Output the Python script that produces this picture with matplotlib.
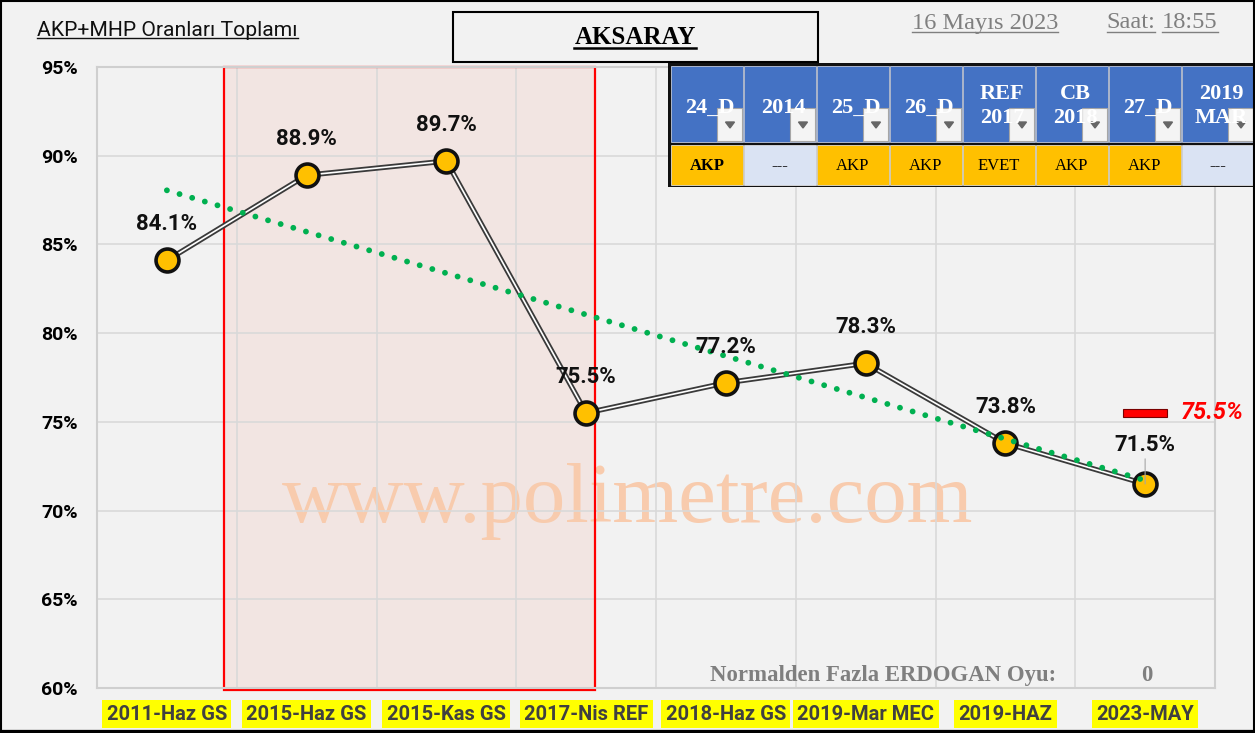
import numpy as np
import matplotlib.pyplot as plt
from matplotlib.patches import Rectangle, Polygon
from matplotlib.lines import Line2D

# data
elections = ['2011-Haz GS', '2015-Haz GS', '2015-Kas GS', '2017-Nis REF',
             '2018-Haz GS', '2019-Mar MEC', '2019-HAZ', '2023-MAY']
akp_mhp = [84.1, 88.9, 89.7, 75.5, 77.2, 78.3, 73.8, 71.5]
expected_2023 = 75.5
yticks = [60, 65, 70, 75, 80, 85, 90, 95]

table_heads = ['24_D', '2014', '25_D', '26_D', 'REF\n2017', 'CB\n2018', '27_D', '2019\nMAR']
table_vals = ['AKP', '---', 'AKP', 'AKP', 'EVET', 'AKP', 'AKP', '---']
extra_erdogan = 0

W, H = 1255, 733
BG = '#f2f2f2'
GRID = '#d9d9d9'

fig = plt.figure(figsize=(W / 100, H / 100), dpi=100)
fig.set_facecolor(BG)


def px_rect(x, y, w, h, **kw):
    r = Rectangle((x / W, 1 - (y + h) / H), w / W, h / H, transform=fig.transFigure, **kw)
    fig.add_artist(r)
    return r


def ftext(x, y, s, **kw):
    return fig.text(x / W, 1 - y / H, s, **kw)


def underline(t, color, lw=1.2):
    fig.canvas.draw()
    bb = t.get_window_extent().transformed(fig.transFigure.inverted())
    fig.add_artist(Line2D([bb.x0, bb.x1], [bb.y0 + 0.002, bb.y0 + 0.002],
                          transform=fig.transFigure, color=color, lw=lw))


ax = fig.add_axes([97 / W, 1 - 688 / H, (1215 - 97) / W, (688 - 67) / H])
ax.set_facecolor(BG)
x = np.arange(len(elections))

# highlighted period
ax.add_patch(Rectangle((0.41, 59.9), 2.65, 95 - 59.9, facecolor='#f2e5e2',
                       edgecolor='none', zorder=0.2, clip_on=False))
ax.add_patch(Rectangle((0.41, 59.9), 2.65, 95 - 59.9, facecolor='none',
                       edgecolor='#ff0000', lw=1.6, zorder=2.5, clip_on=False))

ax.text(3.3, 70.5, 'www.polimetre.com', fontsize=61, family='Liberation Serif',
        color='#f8cbad', ha='center', va='center', zorder=0.3)

# series: double line with yellow markers
ax.plot(x, akp_mhp, color='#3a3a3a', lw=3.8, zorder=3, solid_capstyle='round')
ax.plot(x, akp_mhp, color='white', lw=1.2, zorder=3.1)
ax.plot(x, akp_mhp, 'o', ms=16.5, mfc='#ffc000', mec='#111111', mew=2.6, zorder=4)

# linear trendline
coef = np.polyfit(x, akp_mhp, 1)
ax.plot(x, np.polyval(coef, x), color='#00b050', lw=4.2,
        linestyle=(0, (0.01, 2.25)), dash_capstyle='round', zorder=5)

for i, v in enumerate(akp_mhp):
    kw = {}
    dy = 26
    if i == len(akp_mhp) - 1:
        dy = 28
        kw = dict(arrowprops=dict(arrowstyle='-', color='#a6a6a6', lw=0.8,
                                  shrinkA=0, shrinkB=0))
    ax.annotate(f'{v:.1f}%', (i, v), xytext=(0, dy),
                textcoords='offset points', ha='center', va='center',
                family='Roboto', fontweight='bold', fontsize=16, color='#111111',
                zorder=6, **kw)

# expected value for 2023
ax.bar(x[-1], 0.5, bottom=expected_2023 - 0.25, width=0.31, color='#ff0000',
       edgecolor='#7a0000', lw=0.8, zorder=3)
ax.annotate(f'{expected_2023:.1f}%', (x[-1] + 0.155, expected_2023), xytext=(10, 0),
            textcoords='offset points', ha='left', va='center', color='#ff0000',
            family='Roboto', fontweight='bold', fontstyle='italic', fontsize=17,
            annotation_clip=False)

ax.text(6.36, 60.7, 'Normalden Fazla ERDOGAN Oyu:', ha='right', va='center',
        family='Liberation Serif', fontweight='bold', fontsize=16.4, color='#7f7f7f')
ax.text(7.01, 60.7, str(extra_erdogan), ha='center', va='center',
        family='Liberation Serif', fontweight='bold', fontsize=16.4, color='#7f7f7f')

ax.set_xlim(-0.5, 7.5)
ax.set_ylim(60, 95)
ax.set_yticks(yticks)
ax.set_yticklabels([f'{t}%' for t in yticks], family='Roboto', fontweight='bold', fontsize=14)
ax.set_xticks(x)
ax.set_xticklabels(elections, family='Roboto', fontweight='bold',
                   fontsize=14.5, color='#404040')
for lab in ax.get_xticklabels():
    lab.set_bbox(dict(boxstyle='square,pad=0.22', fc='#ffff00', ec='none'))
ax.set_xticks(x[:-1] + 0.5, minor=True)
ax.tick_params(axis='both', which='both', length=0)
ax.tick_params(axis='y', pad=14)
ax.tick_params(axis='x', pad=12)
ax.set_axisbelow(True)
ax.grid(axis='y', color=GRID, lw=1.2)
ax.grid(axis='x', which='minor', color=GRID, lw=1.2)
for s in ax.spines.values():
    s.set_color('#cfcfcf')
    s.set_linewidth(1.5)

# header texts
t1 = ftext(37, 30, 'AKP+MHP Oranları Toplamı', family='Roboto', fontsize=15.2,
           color='#111111', va='center', ha='left')
px_rect(453, 12, 365, 50, facecolor=BG, edgecolor='black', lw=1.5)
t2 = ftext(635, 38, 'AKSARAY', family='Liberation Serif', fontweight='bold',
           fontsize=18, va='center', ha='center', color='black')
t3 = ftext(985, 23, '16 Mayıs 2023', family='Liberation Serif', fontsize=17.6,
           va='center', ha='center', color='#7f7f7f')
t4 = ftext(1131, 23, 'Saat:', family='Liberation Serif', fontsize=17.6,
           va='center', ha='center', color='#7f7f7f')
t5 = ftext(1190, 23, '18:55', family='Liberation Serif', fontsize=17.6,
           va='center', ha='center', color='#7f7f7f')

# filter table
px_rect(668, 63, 587, 124, facecolor='#111111', edgecolor='none')
for i, (head, val) in enumerate(zip(table_heads, table_vals)):
    x0 = 670 + 73 * i
    px_rect(x0 + 0.5, 66, 72, 76, facecolor='#4472c4', edgecolor='#dfe6f5', lw=0.5)
    cell = '#ffc000' if val != '---' else '#dae3f3'
    px_rect(x0 + 0.5, 145, 72, 40, facecolor=cell, edgecolor='#f5f5f5', lw=0.5)
    two = '\n' in head
    ftext(x0 + 40, 106 if two else 108, head, family='Liberation Serif', fontweight='bold',
          fontsize=16, color='white', ha='center', va='center', linespacing=1.3)
    px_rect(x0 + 47, 108, 25, 33, facecolor='#f4f4f4', edgecolor='#a6a6a6', lw=0.8)
    fig.add_artist(Polygon([((x0 + 55.5) / W, 1 - 122 / H), ((x0 + 64.5) / W, 1 - 122 / H),
                            ((x0 + 60) / W, 1 - 128 / H)], closed=True,
                           transform=fig.transFigure, color='#666666'))
    ftext(x0 + 37, 166, val, family='Liberation Serif',
          fontweight='bold' if i == 0 else 'normal', fontsize=12,
          color='black', ha='center', va='center')

# outer frame
px_rect(1, 1, W - 2, H - 3, facecolor='none', edgecolor='black', lw=1.5)
fig.add_artist(Line2D([0, 1], [1.5 / H, 1.5 / H], transform=fig.transFigure,
                      color='black', lw=3))

underline(t1, '#111111', lw=1.0)
underline(t2, 'black', lw=1.8)
for t in (t3, t4, t5):
    underline(t, '#7f7f7f', lw=1.0)

fig.savefig('out.png', dpi=100, facecolor=BG)
